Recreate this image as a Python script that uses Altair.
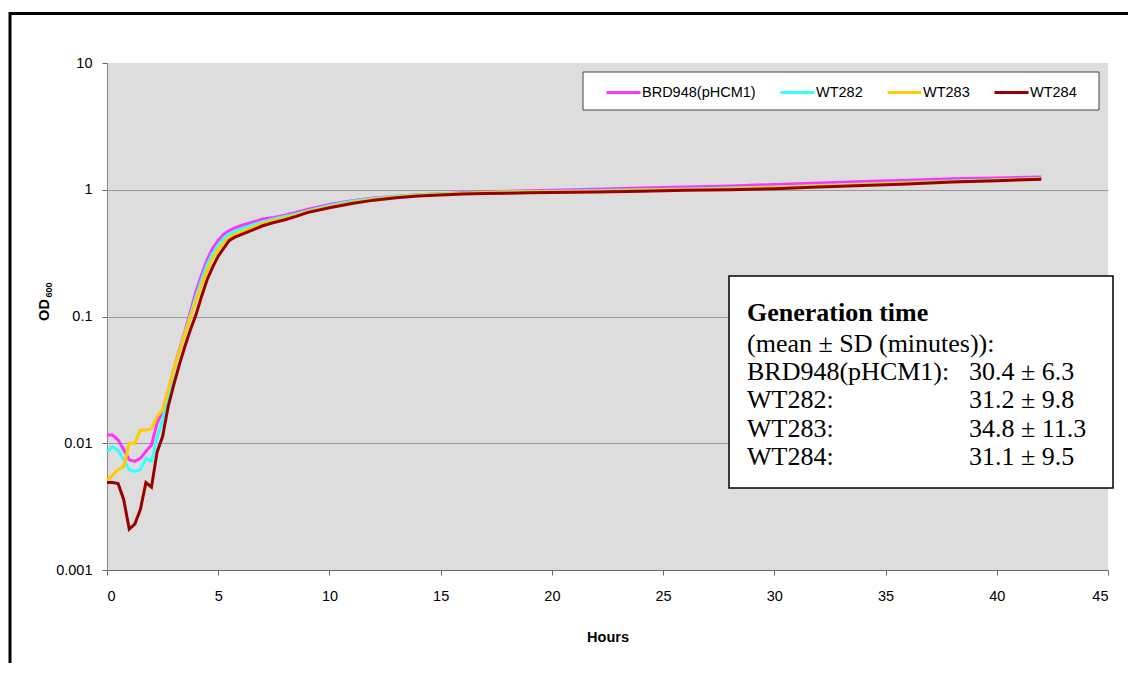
import altair as alt
import pandas as pd

# ---------------- data ----------------
hours = [0, 0.25, 0.5, 0.75, 1, 1.25, 1.5, 1.75, 2, 2.25, 2.5, 2.75, 3, 3.25, 3.5, 3.75,
         4, 4.25, 4.5, 4.75, 5, 5.25, 5.5, 5.75, 6, 6.5, 7, 7.5, 8, 8.5,
         9, 10, 11, 12, 13, 14, 15, 16, 17, 18, 19, 20, 22, 24, 26, 28, 30, 32, 34, 36, 38, 40, 42]

brd948 = [0.0116, 0.0116, 0.0106, 0.0089, 0.0074, 0.0072, 0.0076, 0.0086, 0.0097, 0.0144,
          0.0178, 0.0256, 0.038, 0.0546, 0.076, 0.109, 0.158, 0.213, 0.28, 0.346,
          0.398, 0.447, 0.477, 0.50, 0.52, 0.552, 0.587, 0.605, 0.63, 0.662,
          0.70, 0.765, 0.82, 0.86, 0.89, 0.915, 0.932, 0.948, 0.962, 0.973, 0.983, 0.993,
          1.01, 1.03, 1.05, 1.07, 1.10, 1.13, 1.16, 1.19, 1.22, 1.24, 1.26]
wt282 = [0.0086, 0.0094, 0.0088, 0.0074, 0.0062, 0.0060, 0.0062, 0.0076, 0.0072, 0.011,
         0.0153, 0.0234, 0.0368, 0.053, 0.074, 0.103, 0.144, 0.195, 0.257, 0.316,
         0.368, 0.416, 0.45, 0.47, 0.49, 0.526, 0.56, 0.587, 0.616, 0.643,
         0.68, 0.75, 0.81, 0.855, 0.89, 0.912, 0.928, 0.94, 0.953, 0.963, 0.97, 0.975,
         0.985, 1.0, 1.015, 1.03, 1.05, 1.08, 1.11, 1.14, 1.17, 1.20, 1.23]
wt283 = [0.0051, 0.0056, 0.0062, 0.0065, 0.010, 0.010, 0.0127, 0.0127, 0.013, 0.0163,
         0.0183, 0.0264, 0.038, 0.053, 0.073, 0.099, 0.134, 0.178, 0.233, 0.29,
         0.34, 0.384, 0.42, 0.446, 0.463, 0.50, 0.545, 0.573, 0.60, 0.63,
         0.67, 0.735, 0.795, 0.843, 0.878, 0.903, 0.92, 0.935, 0.945, 0.955, 0.96, 0.965,
         0.975, 0.99, 1.005, 1.02, 1.04, 1.07, 1.10, 1.13, 1.16, 1.19, 1.22]
wt284 = [0.0049, 0.0049, 0.0048, 0.0036, 0.0021, 0.0023, 0.0030, 0.0049, 0.0045, 0.0085,
         0.0113, 0.0195, 0.0289, 0.0415, 0.058, 0.0785, 0.103, 0.144, 0.195, 0.245,
         0.30, 0.346, 0.398, 0.423, 0.44, 0.478, 0.52, 0.552, 0.58, 0.616,
         0.66, 0.72, 0.78, 0.828, 0.866, 0.893, 0.91, 0.925, 0.935, 0.94, 0.945, 0.95,
         0.96, 0.975, 0.99, 1.0, 1.02, 1.05, 1.08, 1.11, 1.15, 1.18, 1.21]

strains = ["BRD948(pHCM1)", "WT282", "WT283", "WT284"]
colors = ["#ff33ff", "#33ffff", "#ffcc00", "#990000"]
x_ticks = [0, 5, 10, 15, 20, 25, 30, 35, 40, 45]
y_ticks = [0.001, 0.01, 0.1, 1, 10]

box_title = "Generation time"
box_subtitle = "(mean ± SD (minutes)):"
box_names = ["BRD948(pHCM1):", "WT282:", "WT283:", "WT284:"]
box_values = ["30.4 ± 6.3", "31.2 ± 9.8", "34.8 ± 11.3", "31.1 ± 9.5"]

rows = []
for s, vals in zip(strains, [brd948, wt282, wt283, wt284]):
    for t, v in zip(hours, vals):
        rows.append({"strain": s, "hours": t, "od": v})
df = pd.DataFrame(rows)
dummy = pd.DataFrame({"k": [0]})

SANS = "Liberation Sans"
SERIF = "Liberation Serif"
BOX_FS = 26

# ---------------- layers ----------------
frame = alt.Chart(dummy).mark_rect(fillOpacity=0, stroke="black", strokeWidth=3).encode(
    x=alt.value(-97), x2=alt.value(1300), y=alt.value(-49.5), y2=alt.value(900)
)

lines = alt.Chart(df).mark_line(strokeWidth=3).encode(
    x=alt.X("hours:Q",
            scale=alt.Scale(domain=[0, 45], nice=False, zero=False),
            axis=alt.Axis(values=x_ticks, title="Hours", grid=False,
                          labelFont=SANS, labelFontSize=14.5, labelColor="black",
                          labelPadding=14, tickSize=5, tickColor="#666666",
                          domainColor="#666666", titleFont=SANS, titleFontSize=14.5,
                          titleFontWeight="bold", titleColor="black", titlePadding=28)),
    y=alt.Y("od:Q",
            scale=alt.Scale(type="log", domain=[0.001, 10]),
            axis=alt.Axis(values=y_ticks, format="~g", title=None,
                          labelFont=SANS, labelFontSize=14.5, labelColor="black",
                          labelPadding=10, tickSize=5, tickColor="#666666",
                          domainColor="#888888", grid=True, gridWidth=1,
                          gridColor={"condition": {"test": "datum.value >= 9 || datum.value <= 0.0011",
                                                   "value": "transparent"},
                                     "value": "#9a9a9a"})),
    color=alt.Color("strain:N",
                    scale=alt.Scale(domain=strains, range=colors),
                    legend=alt.Legend(orient="none", legendX=498, legendY=11,
                                      direction="horizontal", title=None,
                                      symbolType="stroke", symbolSize=1156,
                                      symbolStrokeWidth=3, labelFont=SANS,
                                      labelFontSize=14.5, labelColor="black",
                                      labelOffset=0, columnPadding=18, padding=0,
                                      zindex=1)),
)

legend_box = alt.Chart(dummy).mark_rect(fill="white", stroke="#444444", strokeWidth=1).encode(
    x=alt.value(476), x2=alt.value(992), y=alt.value(9), y2=alt.value(47)
)

gen_box = alt.Chart(dummy).mark_rect(fill="white", stroke="black", strokeWidth=1.5).encode(
    x=alt.value(622), x2=alt.value(1006), y=alt.value(213), y2=alt.value(425)
)

texts = [
    alt.Chart(dummy).mark_text(text=box_title, font=SERIF, fontSize=BOX_FS, fontWeight="bold",
                               align="left", baseline="alphabetic", color="black").encode(
        x=alt.value(640), y=alt.value(257.5)),
    alt.Chart(dummy).mark_text(text=box_subtitle, font=SERIF, fontSize=BOX_FS,
                               align="left", baseline="alphabetic", color="black").encode(
        x=alt.value(640), y=alt.value(288.7)),
]
for i, (n, v) in enumerate(zip(box_names, box_values)):
    yy = 317 + i * 28.35
    texts.append(alt.Chart(dummy).mark_text(text=n, font=SERIF, fontSize=BOX_FS, align="left",
                                            baseline="alphabetic", color="black").encode(
        x=alt.value(640), y=alt.value(yy)))
    texts.append(alt.Chart(dummy).mark_text(text=v, font=SERIF, fontSize=BOX_FS, align="left",
                                            baseline="alphabetic", color="black").encode(
        x=alt.value(862), y=alt.value(yy)))

od_main = alt.Chart(dummy).mark_text(text="OD", font=SANS, fontSize=14.5, fontWeight="bold",
                                     angle=270, align="center", baseline="middle",
                                     color="black").encode(
    x=alt.value(-62), y=alt.value(247))
od_sub = alt.Chart(dummy).mark_text(text="600", font=SANS, fontSize=9, fontWeight="bold",
                                    angle=270, align="center", baseline="middle",
                                    color="black").encode(
    x=alt.value(-58), y=alt.value(227))

chart = alt.layer(frame, lines, legend_box, gen_box, *texts, od_main, od_sub).properties(
    width=1001, height=507,
    autosize=alt.AutoSizeParams(type="none"),
    padding={"left": 99, "top": 55, "right": 20, "bottom": 93},
    background="white",
).configure_view(fill="#dddddd", stroke=None)

chart.save("out.html", embed_options={"renderer": "svg", "actions": False})
